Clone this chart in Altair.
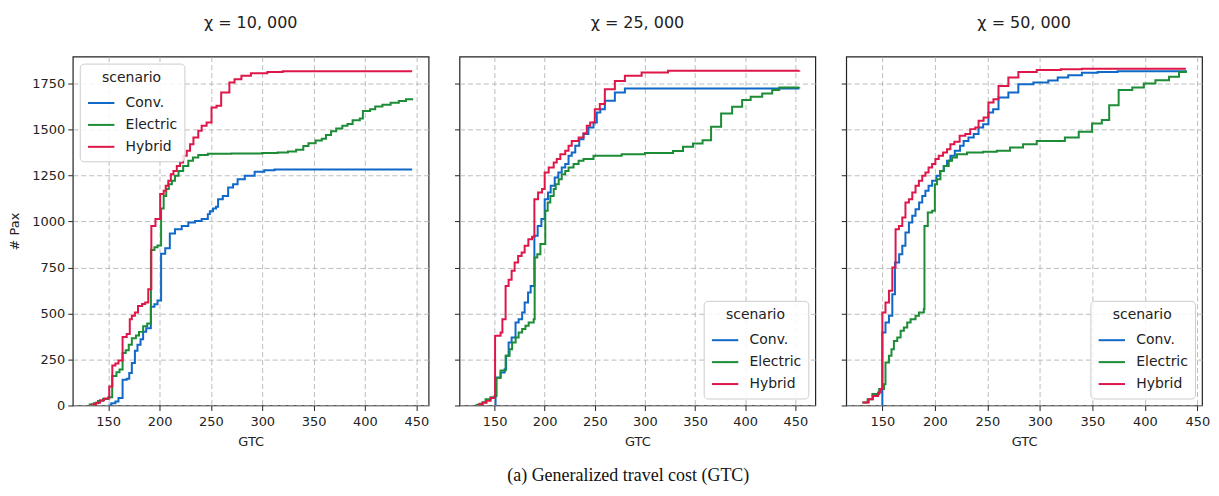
import altair as alt
import pandas as pd

SCENARIOS = ["Conv.", "Electric", "Hybrid"]
COLORS = ["#1068c8", "#1c8c36", "#de1649"]
TITLES = ["χ = 10, 000", "χ = 25, 000", "χ = 50, 000"]
CAPTION = "(a) Generalized travel cost (GTC)"
X_TICKS = [150, 200, 250, 300, 350, 400, 450]
Y_TICKS = [0, 250, 500, 750, 1000, 1250, 1500, 1750]
X_DOMAINS = [[115.5, 462], [115, 470], [115.6, 454.4]]
Y_DOMAIN = [0, 1896]

# ---- panel 1 (chi = 10,000) ----
p1_conv_x = [150, 153, 157, 160, 164, 168, 170.5, 173, 176, 178.5, 181.5, 184, 187, 191.5, 195, 198, 201.5,
             205.5, 210, 215, 221.6, 228, 234.5, 241, 247, 249, 252, 255, 257, 261.6, 266.8, 271.6, 276, 283,
             292.6, 302, 312, 446]
p1_conv_y = [0, 12, 22, 40, 140, 145, 177, 231, 298, 330, 360, 401, 420, 536, 550, 570, 825,
             855, 935, 958, 976, 994, 1003, 1013, 1040, 1055, 1070, 1080, 1121, 1139, 1185, 1203, 1230, 1248,
             1270, 1278, 1283, 1283]

p1_elec_x = [131, 136, 140, 145, 150, 153.9, 158, 161, 164, 167, 170, 173, 177, 180, 184, 188, 191.6, 195,
             198, 201.5, 204, 206.5, 209, 212, 215, 218.5, 223, 228, 232.5, 237.7, 247, 270, 300, 315, 325,
             333, 340, 345, 352, 358, 362, 367, 372, 378, 383, 388, 395, 398, 405, 410, 417, 425, 433, 440, 446]
p1_elec_y = [5, 12, 25, 35, 45, 160, 180, 195, 285, 300, 330, 365, 380, 400, 430, 445, 845, 860,
             870, 1070, 1139, 1176, 1203, 1221, 1248, 1275, 1302, 1330, 1348, 1362, 1368, 1370, 1372, 1375, 1380,
             1390, 1410, 1425, 1440, 1450, 1470, 1490, 1505, 1520, 1530, 1550, 1560, 1600, 1610, 1625, 1635,
             1645, 1655, 1665, 1670]

p1_hyb_x = [133, 138, 142, 146, 151, 154, 157, 160, 164, 168, 171, 173, 176, 179, 183, 186, 189, 192, 196,
            200.6, 204, 206, 208.5, 211, 213.5, 216.8, 220, 223, 226.5, 229.7, 233, 237.7, 241, 245.8, 250.6,
            255.5, 260, 268, 273, 279.7, 289, 305, 320, 446]
p1_hyb_y = [5, 15, 28, 38, 103, 217, 228, 245, 372, 388, 469, 487, 505, 540, 551, 560, 632, 976, 1013,
            1149, 1167, 1194, 1221, 1257, 1275, 1302, 1320, 1357, 1384, 1420, 1457, 1493, 1520, 1538, 1620,
            1629, 1701, 1755, 1773, 1792, 1806, 1813, 1816, 1816]

# ---- panel 2 (chi = 25,000) ----
p2_conv_x = [150.5, 151, 156, 160, 161.5, 164, 167, 170.9, 174, 177.5, 180, 183.4, 186, 189.7, 193, 196.7,
             200, 203.3, 206, 210, 213.6, 217, 220.5, 223.8, 227, 230.5, 234.5, 238.7, 243.6, 248.7, 252,
             255.5, 260, 270, 280, 454]
p2_conv_y = [0, 152, 179, 197, 270, 342, 370, 451, 469, 505, 560, 614, 650, 922, 976, 1013,
             1121, 1158, 1194, 1239, 1266, 1293, 1312, 1357, 1375, 1411, 1447, 1475, 1511, 1538, 1592,
             1610, 1656, 1701, 1723, 1723]

p2_elec_x = [131, 135, 138, 141, 146, 150, 152, 156, 161, 165, 167.5, 171, 174, 177.5, 180.8, 184, 189,
             190, 192.6, 195.7, 200.6, 203, 205.6, 209, 211, 214, 217, 220.5, 223.8, 228.8, 233.8, 238.7,
             248.7, 276.8, 300, 328, 338, 348, 357.5, 366, 376, 387, 397, 405.5, 417, 427, 434, 454]
p2_elec_y = [3, 10, 18, 34, 45, 52, 150, 190, 270, 306, 342, 370, 397, 415, 433, 451, 469,
             804, 822, 877, 1058, 1103, 1139, 1176, 1203, 1230, 1257, 1275, 1293, 1312, 1330, 1339,
             1357, 1366, 1372, 1383, 1406, 1424, 1442, 1515, 1587, 1623, 1660, 1678, 1696, 1714, 1728, 1730]

p2_hyb_x = [133, 138, 142, 146, 150.5, 156, 157.8, 161, 164, 167, 170, 173.5, 177, 180, 183.7, 187.4,
            189.7, 193.4, 197.4, 200, 204, 209, 212, 215.6, 220.5, 223.8, 227, 233.8, 238.7, 242, 245.4,
            250, 255, 260, 270, 280, 296.7, 323, 454]
p2_hyb_y = [5, 15, 25, 40, 379, 397, 469, 650, 683, 732, 777, 813, 832, 868, 904, 917,
            1121, 1158, 1176, 1266, 1293, 1320, 1339, 1366, 1384, 1411, 1438, 1457, 1480, 1520, 1538,
            1610, 1638, 1719, 1764, 1792, 1810, 1819, 1820]

# ---- panel 3 (chi = 50,000) ----
p3_conv_x = [149.5, 150, 153, 156.3, 159.5, 162, 166, 169, 172, 175.3, 178.5, 181.6, 185, 188, 191, 194,
             197.4, 201.5, 205, 208.5, 211.6, 214.8, 219, 224, 227.4, 232, 237, 241.6, 246, 251, 255.5,
             260.6, 270, 279.5, 293.8, 308, 317, 327, 340, 355, 374, 439]
p3_conv_y = [0, 397, 451, 487, 605, 777, 822, 868, 940, 994, 1031, 1067, 1103, 1139, 1167, 1194,
             1221, 1248, 1275, 1302, 1330, 1357, 1384, 1411, 1438, 1457, 1475, 1511, 1529, 1592, 1610,
             1674, 1701, 1746, 1755, 1766, 1782, 1795, 1808, 1813, 1817, 1820]

p3_elec_x = [131, 136, 140.5, 147, 151.6, 153, 156.3, 158.7, 161, 164.2, 167.4, 170.5, 173.7, 176.9, 181.6,
             184.8, 189.5, 190.1, 193.3, 197.4, 200, 202.1, 205.3, 208.5, 213.2, 216.4, 221, 230.6, 246, 259,
             271.6, 284, 297, 323.8, 337, 349.7, 359, 366, 375, 388, 399, 410, 423, 432.5, 439]
p3_elec_y = [16, 34, 62, 89, 116, 234, 270, 306, 351, 370, 406, 424, 451, 469, 487,
             505, 524, 976, 1049, 1058, 1203, 1230, 1275, 1302, 1330, 1348, 1366, 1375, 1379, 1384,
             1402, 1420, 1438, 1457, 1488, 1533, 1551, 1632, 1714, 1728, 1750, 1768, 1786, 1813, 1820]

p3_hyb_x = [131, 137, 141, 146, 148.4, 150, 153, 156.3, 159.5, 162.6, 165.8, 169, 172, 175.3, 178.5, 181.6,
            184.8, 188, 191, 194, 197.4, 200.5, 203.7, 207.8, 211.6, 214.8, 218.6, 223.6, 229, 233.7, 238.5,
            241.6, 246.4, 251, 255.8, 260.6, 270, 279.5, 297, 320, 340, 439]
p3_hyb_y = [16, 34, 52, 70, 89, 505, 560, 623, 750, 958, 976, 1022, 1103, 1121, 1158, 1194,
            1221, 1248, 1266, 1293, 1312, 1339, 1357, 1375, 1393, 1420, 1433, 1466, 1475, 1502, 1511,
            1547, 1565, 1647, 1665, 1737, 1782, 1813, 1824, 1828, 1830, 1830]

PANELS = [
    [(p1_conv_x, p1_conv_y), (p1_elec_x, p1_elec_y), (p1_hyb_x, p1_hyb_y)],
    [(p2_conv_x, p2_conv_y), (p2_elec_x, p2_elec_y), (p2_hyb_x, p2_hyb_y)],
    [(p3_conv_x, p3_conv_y), (p3_elec_x, p3_elec_y), (p3_hyb_x, p3_hyb_y)],
]

FONT = "DejaVu Sans"


def make_df(series):
    rows = []
    for name, (xs, ys) in zip(SCENARIOS, series):
        for i, (x, y) in enumerate(zip(xs, ys)):
            rows.append({"gtc": x, "pax": y, "scenario": name, "ord": i})
    return pd.DataFrame(rows)


def make_panel(idx):
    df = make_df(PANELS[idx])
    first = idx == 0
    legend = alt.Legend(
        orient="top-left" if first else "bottom-right",
        offset=7,
        title="scenario",
        titleAnchor="middle",
        titleFont=FONT,
        titleFontSize=14,
        titleFontWeight="normal",
        titleColor="#222222",
        titlePadding=4,
        labelFont=FONT,
        labelFontSize=14,
        labelColor="#222222",
        labelOffset=10,
        symbolType="stroke",
        symbolSize=700,
        symbolStrokeWidth=2,
        rowPadding=-3,
        padding=7,
        fillColor="rgba(255,255,255,0.85)",
        strokeColor="#cccccc",
        cornerRadius=4,
    )
    if first:
        y_enc = alt.Y("pax:Q", title="# Pax",
                      scale=alt.Scale(domain=Y_DOMAIN, nice=False),
                      axis=alt.Axis(values=Y_TICKS, format="d", titlePadding=10))
    else:
        y_enc = alt.Y("pax:Q", title=None,
                      scale=alt.Scale(domain=Y_DOMAIN, nice=False),
                      axis=alt.Axis(values=Y_TICKS, labels=False))
    chart = alt.Chart(df).mark_line(interpolate="step-after", strokeWidth=2, clip=True).encode(
        x=alt.X("gtc:Q", title="GTC",
                scale=alt.Scale(domain=X_DOMAINS[idx], nice=False, zero=False),
                axis=alt.Axis(values=X_TICKS, format="d", labelPadding=5, titlePadding=7)),
        y=y_enc,
        color=alt.Color("scenario:N", scale=alt.Scale(domain=SCENARIOS, range=COLORS), legend=legend),
        order=alt.Order("ord:Q"),
    ).properties(
        width=357,
        height=350,
        title=alt.TitleParams(text=TITLES[idx], font=FONT, fontSize=16, fontWeight="normal",
                              color="#222222", anchor="middle", offset=26),
    )
    return chart


chart = alt.hconcat(make_panel(0), make_panel(1), make_panel(2), spacing=23).resolve_legend(
    color="independent"
).properties(
    title=alt.TitleParams(text=CAPTION, orient="bottom", anchor="middle", font="Liberation Serif",
                          fontSize=18, fontWeight="normal", color="#111111", offset=18, dx=19),
    padding={"left": 0, "top": 5, "right": 0, "bottom": 0},
).configure_view(
    stroke="#222222", strokeWidth=1.2
).configure_axis(
    grid=True, gridDash=[5, 3], gridColor="#b5b5b5", gridWidth=0.9,
    domain=False, ticks=True, tickColor="#222222", tickSize=5, tickWidth=1,
    labelFont=FONT, labelFontSize=13, labelColor="#222222", labelPadding=3,
    titleFont=FONT, titleFontSize=13, titleFontWeight="normal", titleColor="#222222",
).configure_title(font=FONT)

chart.save("out.html", embed_options={"renderer": "svg", "actions": False})
